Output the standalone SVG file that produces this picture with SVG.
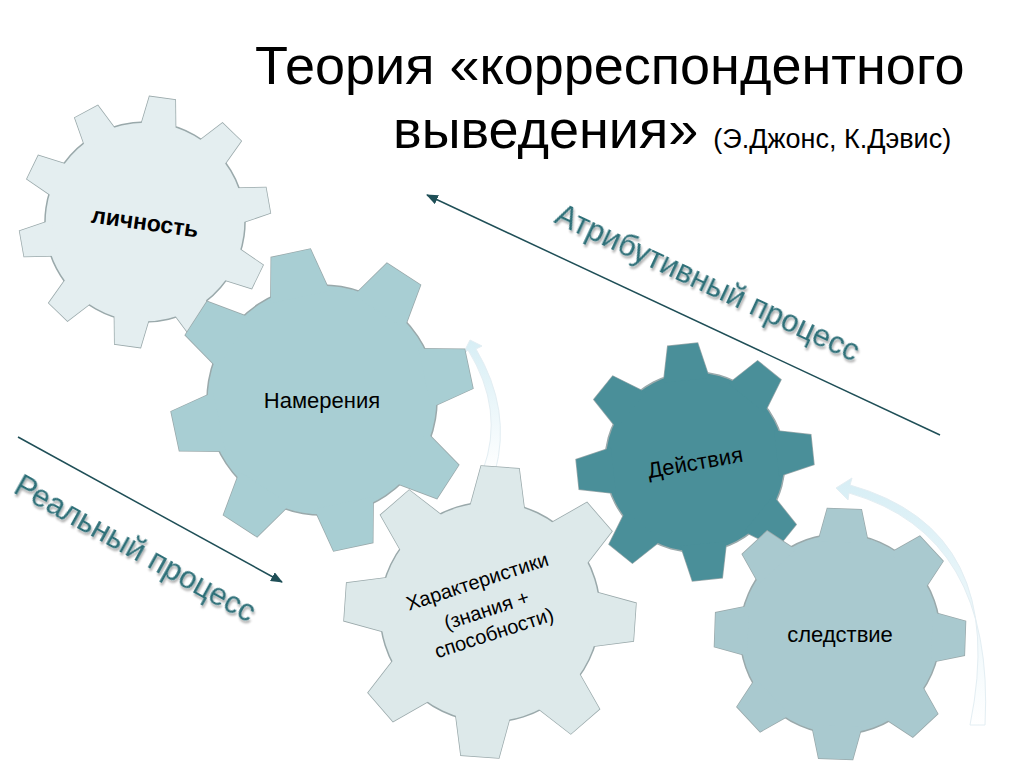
<svg xmlns="http://www.w3.org/2000/svg" width="1024" height="767" viewBox="0 0 1024 767">
<style>
.t{font-family:"Liberation Sans",Arial,sans-serif;fill:#000}
.lbl{font-family:"Liberation Sans",Arial,sans-serif;font-size:31px;fill:#2e6f78}
.g{stroke:#9aa9ab;stroke-width:1.5}
.arrow{stroke:#1f4f57;stroke-width:1.5;fill:none}
</style>
<defs>
<marker id="ah" markerWidth="12" markerHeight="10" refX="11" refY="5" orient="auto" markerUnits="userSpaceOnUse"><path d="M0,0 L12,5 L0,10 z" fill="#1f4f57"/></marker>
<linearGradient id="cg" x1="0" y1="0" x2="0" y2="1"><stop offset="0" stop-color="#d7eef5"/><stop offset="1" stop-color="#ffffff"/></linearGradient>
<filter id="sh"><feDropShadow dx="2" dy="2" stdDeviation="1" flood-color="#000" flood-opacity="0.35"/></filter>
<polygon id="t1" points="-18,-92 18,-92 13,-125 -13,-125"/>
<polygon id="t2" points="-30,-105 30,-105 20,-150 -20,-150"/>
<polygon id="t3" points="-28,-100 28,-100 19,-145 -19,-145"/>
<polygon id="t4" points="-23,-82 23,-82 15,-118 -15,-118"/>
<polygon id="t5" points="-25,-92 25,-92 17,-125 -17,-125"/>
</defs>
<rect width="1024" height="767" fill="#fff"/>
<text class="t" x="255" y="84" font-size="54">Теория «корреспондентного</text>
<text class="t" x="393" y="148" font-size="54">выведения» <tspan font-size="27">(Э.Джонс, К.Дэвис)</tspan></text>

<g id="connectors">
<line class="arrow" x1="940" y1="435" x2="427" y2="195" marker-end="url(#ah)"/>
<line class="arrow" x1="18" y1="437" x2="282" y2="582" marker-end="url(#ah)"/>
<path d="M483,470 Q505,410 468,350 L462,356 L470,340 L482,346 L476,349 Q512,410 495,472 z" fill="url(#cg)" stroke="#e3eef3"/>
<path d="M970,725 Q1010,530 850,485 L852,478 L836,488 L848,500 L849,493 Q995,535 985,725 z" fill="url(#cg)" stroke="#e3eef3"/>
</g>
<text class="lbl" transform="translate(553,222) rotate(25)" filter="url(#sh)">Атрибутивный процесс</text>
<text class="lbl" transform="translate(12,492) rotate(29)" filter="url(#sh)">Реальный процесс</text>

<g id="gear-lichnost" transform="translate(145,222) rotate(8)" fill="#e4eef0">
<g class="g"><use href="#t1"/><use href="#t1" transform="rotate(36)"/><use href="#t1" transform="rotate(72)"/><use href="#t1" transform="rotate(108)"/><use href="#t1" transform="rotate(144)"/><use href="#t1" transform="rotate(180)"/><use href="#t1" transform="rotate(216)"/><use href="#t1" transform="rotate(252)"/><use href="#t1" transform="rotate(288)"/><use href="#t1" transform="rotate(324)"/></g>
<circle r="100" class="g"/>
<g><use href="#t1"/><use href="#t1" transform="rotate(36)"/><use href="#t1" transform="rotate(72)"/><use href="#t1" transform="rotate(108)"/><use href="#t1" transform="rotate(144)"/><use href="#t1" transform="rotate(180)"/><use href="#t1" transform="rotate(216)"/><use href="#t1" transform="rotate(252)"/><use href="#t1" transform="rotate(288)"/><use href="#t1" transform="rotate(324)"/></g>
<text class="t" font-size="23" font-weight="bold" text-anchor="middle" y="8">личность</text>
</g>

<g id="gear-namereniya" transform="translate(322,400) rotate(-12)" fill="#a8ced3">
<g class="g"><use href="#t2"/><use href="#t2" transform="rotate(45)"/><use href="#t2" transform="rotate(90)"/><use href="#t2" transform="rotate(135)"/><use href="#t2" transform="rotate(180)"/><use href="#t2" transform="rotate(225)"/><use href="#t2" transform="rotate(270)"/><use href="#t2" transform="rotate(315)"/></g>
<circle r="115" class="g"/>
<g><use href="#t2"/><use href="#t2" transform="rotate(45)"/><use href="#t2" transform="rotate(90)"/><use href="#t2" transform="rotate(135)"/><use href="#t2" transform="rotate(180)"/><use href="#t2" transform="rotate(225)"/><use href="#t2" transform="rotate(270)"/><use href="#t2" transform="rotate(315)"/></g>
</g>
<text class="t" x="322" y="408" font-size="22" text-anchor="middle">Намерения</text>

<g id="gear-harakteristiki" transform="translate(490,612) rotate(4)" fill="#dde9ea">
<g class="g"><use href="#t3"/><use href="#t3" transform="rotate(45)"/><use href="#t3" transform="rotate(90)"/><use href="#t3" transform="rotate(135)"/><use href="#t3" transform="rotate(180)"/><use href="#t3" transform="rotate(225)"/><use href="#t3" transform="rotate(270)"/><use href="#t3" transform="rotate(315)"/></g>
<circle r="110" class="g"/>
<g><use href="#t3"/><use href="#t3" transform="rotate(45)"/><use href="#t3" transform="rotate(90)"/><use href="#t3" transform="rotate(135)"/><use href="#t3" transform="rotate(180)"/><use href="#t3" transform="rotate(225)"/><use href="#t3" transform="rotate(270)"/><use href="#t3" transform="rotate(315)"/></g>
</g>
<g transform="translate(485,605) rotate(-18)">
<text class="t" y="-18" font-size="20" text-anchor="middle">Характеристики</text>
<text class="t" y="12" font-size="20" text-anchor="middle">(знания +</text>
<text class="t" y="36" font-size="20" text-anchor="middle">способности)</text>
</g>

<g id="gear-deystviya" transform="translate(695,462) rotate(-6)" fill="#4a8f99">
<g class="g"><use href="#t4"/><use href="#t4" transform="rotate(45)"/><use href="#t4" transform="rotate(90)"/><use href="#t4" transform="rotate(135)"/><use href="#t4" transform="rotate(180)"/><use href="#t4" transform="rotate(225)"/><use href="#t4" transform="rotate(270)"/><use href="#t4" transform="rotate(315)"/></g>
<circle r="90" class="g"/>
<g><use href="#t4"/><use href="#t4" transform="rotate(45)"/><use href="#t4" transform="rotate(90)"/><use href="#t4" transform="rotate(135)"/><use href="#t4" transform="rotate(180)"/><use href="#t4" transform="rotate(225)"/><use href="#t4" transform="rotate(270)"/><use href="#t4" transform="rotate(315)"/></g>
<text class="t" font-size="22" text-anchor="middle" y="8" transform="rotate(-4)">Действия</text>
</g>

<g id="gear-sledstvie" transform="translate(840,634) rotate(2)" fill="#a9c9cf">
<g class="g"><use href="#t5"/><use href="#t5" transform="rotate(45)"/><use href="#t5" transform="rotate(90)"/><use href="#t5" transform="rotate(135)"/><use href="#t5" transform="rotate(180)"/><use href="#t5" transform="rotate(225)"/><use href="#t5" transform="rotate(270)"/><use href="#t5" transform="rotate(315)"/></g>
<circle r="100" class="g"/>
<g><use href="#t5"/><use href="#t5" transform="rotate(45)"/><use href="#t5" transform="rotate(90)"/><use href="#t5" transform="rotate(135)"/><use href="#t5" transform="rotate(180)"/><use href="#t5" transform="rotate(225)"/><use href="#t5" transform="rotate(270)"/><use href="#t5" transform="rotate(315)"/></g>
<text class="t" font-size="22" text-anchor="middle" y="8" transform="rotate(-2)">следствие</text>
</g>
</svg>
